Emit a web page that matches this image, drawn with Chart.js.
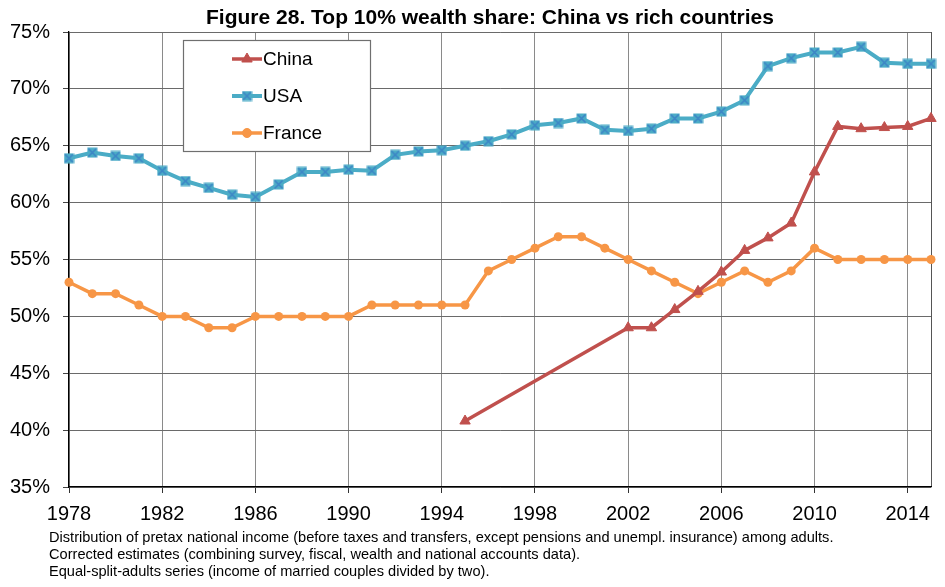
<!DOCTYPE html>
<html>
<head>
<meta charset="utf-8">
<script src="https://cdn.jsdelivr.net/npm/chart.js@4/dist/chart.umd.min.js"></script>
<style>
  body { margin: 0; background: #fff; }
  #wrap { position: relative; width: 945px; height: 587px; }
  .note { position: absolute; left: 49px; font: 14.6px "Liberation Sans", Arial, sans-serif; color: #000; white-space: nowrap; line-height: 17px; }
</style>
</head>
<body>
<div id="wrap">
  <canvas id="mychart" width="945" height="587"></canvas>
  <div class="note" style="top:529px">Distribution of pretax national income (before taxes and transfers, except pensions and unempl. insurance) among adults.</div>
  <div class="note" style="top:546px">Corrected estimates (combining survey, fiscal, wealth and national accounts data).</div>
  <div class="note" style="top:563px">Equal-split-adults series (income of married couples divided by two).</div>
</div>
<script>
var years = [1978, 1979, 1980, 1981, 1982, 1983, 1984, 1985, 1986, 1987,
  1988, 1989, 1990, 1991, 1992, 1993, 1994, 1995, 1996, 1997,
  1998, 1999, 2000, 2001, 2002, 2003, 2004, 2005, 2006, 2007,
  2008, 2009, 2010, 2011, 2012, 2013, 2014, 2015];

// top 10% share, in %
var china = [null, null, null, null, null, null, null, null, null, null,
  null, null, null, null, null, null, null, 40.8, null, null,
  null, null, null, null, 49.0, 49.0, 50.6, 52.2, 53.9, 55.8,
  56.9, 58.2, 62.7, 66.7, 66.5, 66.6, 66.7, 67.4];
var usa = [63.9, 64.4, 64.1, 63.9, 62.8, 61.9, 61.3, 60.7, 60.5, 61.6,
  62.7, 62.7, 62.9, 62.8, 64.2, 64.5, 64.6, 65.0, 65.4, 66.0,
  66.8, 67.0, 67.4, 66.4, 66.3, 66.5, 67.4, 67.4, 68.0, 69.0,
  72.0, 72.7, 73.2, 73.2, 73.7, 72.3, 72.2, 72.2];
var france = [53, 52, 52, 51, 50, 50, 49, 49, 50, 50,
  50, 50, 50, 51, 51, 51, 51, 51, 54, 55,
  56, 57, 57, 56, 55, 54, 53, 52, 53, 54,
  53, 54, 56, 55, 55, 55, 55, 55];

var yTicks = [35, 40, 45, 50, 55, 60, 65, 70, 75];

var FONT = '"Liberation Sans", Arial, sans-serif';

// square marker with an x through it, like the excel one
function boxCross() {
  var c = document.createElement('canvas');
  c.width = 11; c.height = 11;
  var g = c.getContext('2d');
  g.fillStyle = '#4bacc6';
  g.fillRect(0.5, 0.5, 10, 10);
  g.strokeStyle = '#3d85c6';
  g.lineWidth = 1.6;
  g.beginPath();
  g.moveTo(1.5, 1.5); g.lineTo(9.5, 9.5);
  g.moveTo(9.5, 1.5); g.lineTo(1.5, 9.5);
  g.stroke();
  return c;
}
var usaMark = boxCross();

function majorYear(i) {
  return (years[i] - 1978) % 4 === 0;
}

var titlePlugin = {
  id: 'titleText',
  afterDraw: function (chart) {
    var ctx = chart.ctx;
    ctx.save();
    ctx.font = 'bold 21px ' + FONT;
    ctx.fillStyle = '#000';
    ctx.textAlign = 'center';
    ctx.textBaseline = 'alphabetic';
    ctx.fillText('Figure 28. Top 10% wealth share: China vs rich countries', 490, 24);
    ctx.restore();
  }
};

var legendPlugin = {
  id: 'boxLegend',
  afterDraw: function (chart) {
    var ctx = chart.ctx;
    var rows = [59, 96, 133];
    ctx.save();
    ctx.fillStyle = '#fff';
    ctx.fillRect(183, 40, 187, 111);
    ctx.strokeStyle = '#6f6f6f';
    ctx.lineWidth = 1.2;
    ctx.strokeRect(183.5, 40.5, 187, 111);
    chart.data.datasets.forEach(function (ds, i) {
      var y = rows[i];
      ctx.strokeStyle = ds.borderColor;
      ctx.lineWidth = ds.borderWidth;
      ctx.beginPath();
      ctx.moveTo(232, y);
      ctx.lineTo(262, y);
      ctx.stroke();
      ctx.fillStyle = ds.backgroundColor;
      ctx.lineWidth = 1;
      Chart.helpers.drawPoint(ctx, {
        pointStyle: ds.pointStyle,
        radius: ds.pointRadius,
        borderWidth: 1
      }, 247, y);
      ctx.fillStyle = '#000';
      ctx.font = '19px ' + FONT;
      ctx.textAlign = 'left';
      ctx.textBaseline = 'middle';
      ctx.fillText(ds.label, 263, y + 1);
    });
    ctx.restore();
  }
};

var ctx = document.getElementById('mychart').getContext('2d');
var chart = new Chart(ctx, {
  type: 'line',
  data: {
    labels: years,
    datasets: [{
      label: 'China',
      data: china,
      borderColor: '#c0504d',
      backgroundColor: '#c0504d',
      borderWidth: 3.5,
      pointStyle: 'triangle',
      pointRadius: 6,
      pointBorderWidth: 1,
      spanGaps: true
    }, {
      label: 'USA',
      data: usa,
      borderColor: '#4bacc6',
      backgroundColor: '#4bacc6',
      borderWidth: 4,
      pointStyle: usaMark,
      pointRadius: 5
    }, {
      label: 'France',
      data: france,
      borderColor: '#f79646',
      backgroundColor: '#f79646',
      borderWidth: 3.5,
      pointStyle: 'circle',
      pointRadius: 4.5,
      pointBorderWidth: 0
    }]
  },
  options: {
    responsive: false,
    animation: false,
    clip: false,
    layout: { padding: { left: 0, right: 14, top: 32, bottom: 55 } },
    plugins: {
      legend: { display: false },
      title: { display: false },
      tooltip: { enabled: false }
    },
    scales: {
      x: {
        type: 'category',
        afterFit: function (scale) { scale.height = 45; },
        border: { color: '#000', width: 1.3 },
        grid: {
          color: function (c) {
            if (c.index === years.length - 1) return '#555';
            return majorYear(c.index) ? '#8a8a8a' : 'rgba(0,0,0,0)';
          },
          tickColor: function (c) {
            return majorYear(c.index) ? '#333' : 'rgba(0,0,0,0)';
          },
          tickLength: 6,
          lineWidth: 1
        },
        ticks: {
          autoSkip: false,
          maxRotation: 0,
          padding: 9,
          color: '#000',
          font: { family: FONT, size: 20 },
          callback: function (v, i) { return majorYear(i) ? String(years[i]) : ''; }
        }
      },
      y: {
        min: 35,
        max: 75,
        afterFit: function (scale) { scale.width = 69; },
        afterBuildTicks: function (scale) {
          scale.ticks = yTicks.map(function (v) { return { value: v }; });
        },
        border: { color: '#000', width: 1.3 },
        grid: { color: '#6a6a6a', tickColor: '#444', tickLength: 6, lineWidth: 1 },
        ticks: {
          padding: 13,
          color: '#000',
          font: { family: FONT, size: 20 },
          callback: function (v) { return v + '%'; }
        }
      }
    }
  },
  plugins: [titlePlugin, legendPlugin]
});
</script>
</body>
</html>
